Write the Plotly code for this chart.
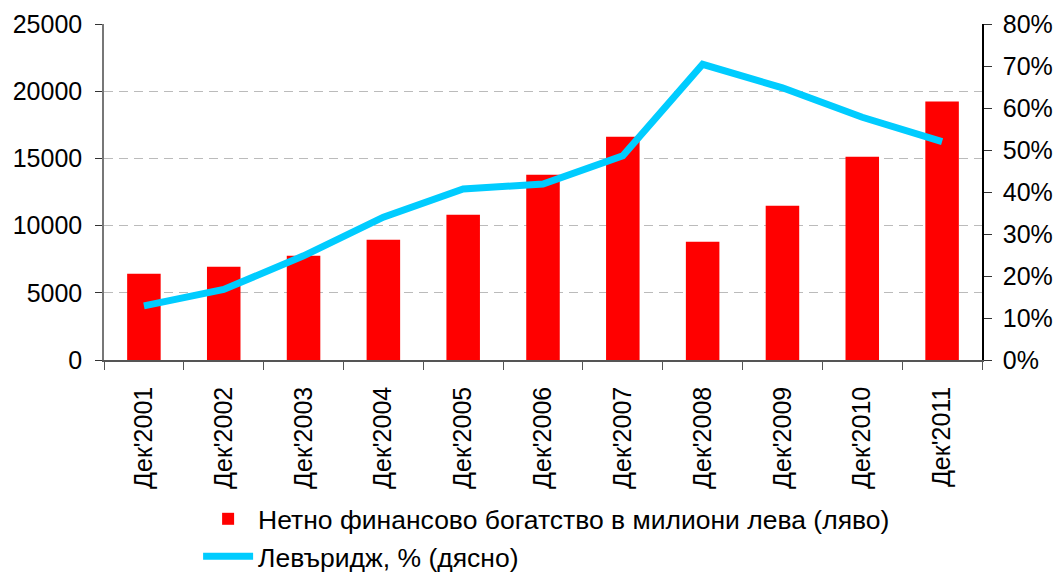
import plotly.graph_objects as go

categories = ["Дек'2001", "Дек'2002", "Дек'2003", "Дек'2004", "Дек'2005", "Дек'2006",
              "Дек'2007", "Дек'2008", "Дек'2009", "Дек'2010", "Дек'2011"]
wealth = [6410, 6930, 7750, 8940, 10800, 13790, 16620, 8790, 11480, 15130, 19230]
leverage = [0.129, 0.168, 0.248, 0.340, 0.407, 0.419, 0.486, 0.704, 0.648, 0.578, 0.520]

bar_name = "Нетно финансово богатство в милиони лева (ляво)"
line_name = "Левъридж, % (дясно)"

FONT = "Liberation Sans, Arial, sans-serif"

fig = go.Figure()
fig.add_trace(go.Bar(x=categories, y=wealth, name=bar_name,
                     marker=dict(color="#FF0000", line=dict(width=0)), yaxis="y"))
fig.add_trace(go.Scatter(x=categories, y=leverage, name=line_name, mode="lines",
                         line=dict(color="#00CCFF", width=7), yaxis="y2"))

fig.update_layout(
    width=1056, height=575,
    margin=dict(l=104, r=74, t=24, b=215, autoexpand=False),
    paper_bgcolor="white", plot_bgcolor="white",
    font=dict(family=FONT, size=25, color="black"),
    bargap=0.58,
    showlegend=True,
    legend=dict(orientation="v", xref="container", yref="container",
                x=0.1876, y=0.139, xanchor="left", yanchor="top",
                font=dict(size=26.5, color="black"), itemwidth=50,
                tracegroupgap=0, bgcolor="rgba(0,0,0,0)"),
    xaxis=dict(type="category", tickangle=-90, showline=True, linecolor="#555555",
               linewidth=1.5, ticks="outside", tickson="boundaries", ticklen=8,
               tickcolor="#555555", showgrid=False, ticklabelstandoff=15,
               tickfont=dict(size=25)),
    yaxis=dict(range=[0, 25000], dtick=5000, showline=True, linecolor="#777777",
               linewidth=1.5, ticks="outside", ticklen=7, tickcolor="#333333",
               showgrid=True, gridcolor="#BBBBBB", griddash="9px,6px", gridwidth=1,
               zeroline=False, tickformat="d", ticklabelstandoff=8,
               tickfont=dict(size=25)),
    yaxis2=dict(range=[0, 0.8], dtick=0.1, overlaying="y", side="right",
                showline=True, linecolor="black", linewidth=1.5, ticks="outside",
                ticklen=8, tickcolor="#333333", showgrid=False, zeroline=False,
                tickformat=".0%", ticklabelstandoff=6, tickfont=dict(size=25)),
)

fig.write_html("out.html", config={"displayModeBar": False},
               post_script="document.body.style.margin='0';document.body.style.overflow='hidden';")
